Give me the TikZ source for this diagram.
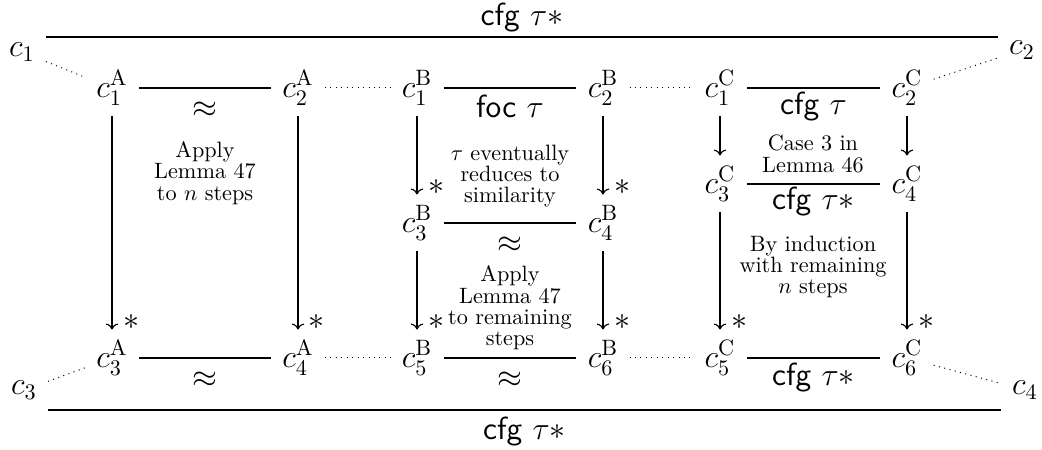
\documentclass[tikz,border=0pt]{standalone}
\usetikzlibrary{arrows.meta}
\begin{document}
\begin{tikzpicture}[x=0.45pt,y=-0.45pt,
  obj/.style={font=\Large, inner xsep=4.9pt, inner ysep=4.8pt},
  outer/.style={font=\Large, inner sep=4.8pt},
  note/.style={font=\fontsize{10}{9.6}\selectfont, align=center, inner sep=0pt},
  lab/.style={font=\Large, inner sep=0pt},
  ast/.style={font=\Large, inner sep=0pt, xshift=19*0.45pt, yshift=7*0.45pt},
  eqline/.style={line width=0.5pt},
  dotline/.style={dotted, line width=0.45pt},
  arr/.style={-{Computer Modern Rightarrow}, line width=0.5pt}
]
\useasboundingbox (0,0) rectangle (1042,450);

% outer nodes
\node[outer] (c1) at (22,52) {$c_1$};
\node[outer] (c2) at (1022,50) {$c_2$};
\node[outer] (c3) at (24,390) {$c_3$};
\node[outer] (c4) at (1025,390) {$c_4$};

% block A
\node[obj] (A1) at (112,88) {$c_1^{\mathrm{A}}$};
\node[obj] (A2) at (298,88) {$c_2^{\mathrm{A}}$};
\node[obj] (A3) at (112,358) {$c_3^{\mathrm{A}}$};
\node[obj] (A4) at (298,358) {$c_4^{\mathrm{A}}$};

% block B
\node[obj] (B1) at (417,88) {$c_1^{\mathrm{B}}$};
\node[obj] (B2) at (603,88) {$c_2^{\mathrm{B}}$};
\node[obj] (B3) at (417,223) {$c_3^{\mathrm{B}}$};
\node[obj] (B4) at (603,223) {$c_4^{\mathrm{B}}$};
\node[obj] (B5) at (417,358) {$c_5^{\mathrm{B}}$};
\node[obj] (B6) at (603,358) {$c_6^{\mathrm{B}}$};

% block C
\node[obj] (C1) at (720,88) {$c_1^{\mathrm{C}}$};
\node[obj] (C2) at (907,88) {$c_2^{\mathrm{C}}$};
\node[obj] (C3) at (720,184) {$c_3^{\mathrm{C}}$};
\node[obj] (C4) at (907,184) {$c_4^{\mathrm{C}}$};
\node[obj] (C5) at (720,358) {$c_5^{\mathrm{C}}$};
\node[obj] (C6) at (907,358) {$c_6^{\mathrm{C}}$};

% outer lines
\coordinate (topl) at (521,37);
\coordinate (botl) at (521,410);
\draw[eqline] (c1.east |- topl) -- (c2.west |- topl)
  node[midway, above=2pt, lab] {$\textsf{cfg}\ \tau{\ast}$};
\draw[eqline] (c3.east |- botl) -- (c4.west |- botl)
  node[midway, below=3pt, lab] {$\textsf{cfg}\ \tau{\ast}$};

% horizontal relations
\draw[eqline] (A1) -- (A2) node[midway, below=6pt, lab] {$\approx$};
\draw[eqline] (A3) -- (A4) node[midway, below=6pt, lab] {$\approx$};
\draw[eqline] (B1) -- (B2) node[midway, below=3pt, lab] {$\textsf{foc}\ \tau$};
\draw[eqline] (B3) -- (B4) node[midway, below=6pt, lab] {$\approx$};
\draw[eqline] (B5) -- (B6) node[midway, below=6pt, lab] {$\approx$};
\draw[eqline] (C1) -- (C2) node[midway, below=1.5pt, lab] {$\textsf{cfg}\ \tau$};
\draw[eqline] (C3) -- (C4) node[midway, below=1pt, lab] {$\textsf{cfg}\ \tau{\ast}$};
\draw[eqline] (C5) -- (C6) node[midway, below=2pt, lab] {$\textsf{cfg}\ \tau{\ast}$};

% dotted links
\draw[dotline] (c1) -- (A1);
\draw[dotline] (A2) -- (B1);
\draw[dotline] (B2) -- (C1);
\draw[dotline] (C2) -- (c2);
\draw[dotline] (c3) -- (A3);
\draw[dotline] (A4) -- (B5);
\draw[dotline] (B6) -- (C5);
\draw[dotline] (C6) -- (c4);

% vertical arrows
\draw[arr] (A1) -- (A3) node[at end, ast] {$\ast$};
\draw[arr] (A2) -- (A4) node[at end, ast] {$\ast$};
\draw[arr] (B1) -- (B3) node[at end, ast] {$\ast$};
\draw[arr] (B2) -- (B4) node[at end, ast] {$\ast$};
\draw[arr] (B3) -- (B5) node[at end, ast] {$\ast$};
\draw[arr] (B4) -- (B6) node[at end, ast] {$\ast$};
\draw[arr] (C1) -- (C3);
\draw[arr] (C2) -- (C4);
\draw[arr] (C3) -- (C5) node[at end, ast] {$\ast$};
\draw[arr] (C4) -- (C6) node[at end, ast] {$\ast$};

% notes
\node[note] (nA) at (205,173) {Apply\\Lemma 47\\to $n$ steps};
\node[note] (nB1) at (510,176) {$\tau$ eventually\\reduces to\\similarity};
\node[note] (nB2) at (510,308) {Apply\\Lemma 47\\to remaining\\steps};
\node[note] (nC1) at (813,154) {Case 3 in\\Lemma 46};
\node[note] (nC2) at (813,267) {By induction\\with remaining\\$n$ steps};
\end{tikzpicture}
\end{document}
